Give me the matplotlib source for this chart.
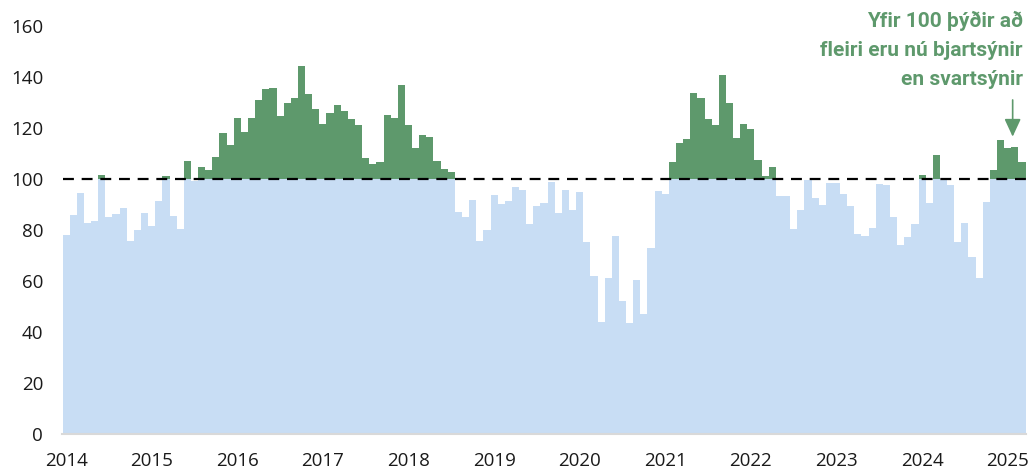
import numpy as np
from matplotlib import pyplot as plt

# vísitala, mánaðarleg gildi jan 2014 - mar 2025
vals_2014 = [78.0, 85.7, 94.6, 82.6, 83.5, 101.6, 85.1, 86.4, 88.5, 75.8, 80.0, 86.5]
vals_2015 = [81.7, 91.4, 101.2, 85.4, 80.4, 106.9, 99.2, 104.6, 103.4, 108.8, 117.9, 113.3]
vals_2016 = [124.1, 118.3, 123.8, 131.0, 135.4, 135.6, 124.8, 129.7, 131.8, 144.3, 133.2, 127.6]
vals_2017 = [121.4, 125.8, 129.0, 126.5, 123.4, 121.2, 108.4, 106.0, 106.5, 125.1, 123.8, 136.9]
vals_2018 = [121.3, 112.3, 117.1, 116.3, 106.9, 103.9, 102.6, 87.1, 85.2, 91.9, 75.8, 80.0]
vals_2019 = [93.7, 90.2, 91.4, 96.7, 95.8, 82.2, 89.4, 90.7, 99.0, 86.8, 95.5, 88.0]
vals_2020 = [94.8, 75.2, 62.0, 44.0, 61.3, 77.5, 52.0, 43.7, 60.5, 47.1, 72.9, 95.3]
vals_2021 = [94.3, 106.5, 114.2, 115.6, 133.9, 131.6, 123.4, 121.2, 140.8, 129.9, 116.0, 121.4]
vals_2022 = [119.5, 107.5, 101.2, 104.8, 93.3, 93.5, 80.4, 87.8, 99.6, 92.5, 89.9, 98.3]
vals_2023 = [98.6, 94.0, 89.4, 78.3, 77.6, 80.8, 97.9, 97.6, 85.1, 74.0, 77.1, 82.2]
vals_2024 = [101.6, 90.7, 109.4, 99.5, 97.6, 75.3, 82.9, 69.5, 61.2, 90.8, 103.5, 115.4]
vals_2025 = [112.3, 112.5, 106.7]

year_labels = ['2014', '2015', '2016', '2017', '2018', '2019',
               '2020', '2021', '2022', '2023', '2024', '2025']

note = "Yfir 100 þýðir að\nfleiri eru nú bjartsýnir\nen svartsýnir"

values = np.array(vals_2014 + vals_2015 + vals_2016 + vals_2017 + vals_2018 + vals_2019 +
                  vals_2020 + vals_2021 + vals_2022 + vals_2023 + vals_2024 + vals_2025)
x = np.arange(len(values))

green = '#5e996c'
blue = '#c8ddf4'

plt.rcParams['font.family'] = ['Open Sans', 'DejaVu Sans']

fig = plt.figure(figsize=(10.32, 4.74), dpi=100)
ax = fig.add_axes([62.5/1032, 40/474, 963/1032, 408/474])

# blár hluti upp að 100, grænn hluti yfir 100
ax.bar(x, np.minimum(values, 100), width=1.0, color=blue, linewidth=0)
ax.bar(x, np.maximum(values - 100, 0), bottom=100, width=1.0, color=green, linewidth=0)

ax.axhline(100, color='black', lw=1.6, dashes=(4.9, 3.5), zorder=3)

ax.set_xlim(-0.5, len(values) - 0.5)
ax.set_ylim(0, 160)
ax.set_yticks(np.arange(0, 161, 20))
ax.set_xticks(np.arange(0, len(values), 12))
ax.set_xticklabels(year_labels)
ax.tick_params(axis='both', length=0, labelsize=13.5, colors='#1a1a1a')
ax.tick_params(axis='x', pad=13)
ax.tick_params(axis='y', pad=14)

for s in ['top', 'right', 'left']:
    ax.spines[s].set_visible(False)
ax.spines['bottom'].set_color('#d9d9d9')
ax.spines['bottom'].set_linewidth(1.5)

# ör og skýring
arrow_x = len(values) - 2.3
ax.annotate('', xy=(arrow_x, 116.6), xytext=(arrow_x, 131),
            arrowprops=dict(arrowstyle='-|>,head_length=1.08,head_width=0.5',
                            color=green, lw=1.2, shrinkA=0, shrinkB=0,
                            mutation_scale=10))
fig.text(1023/1032, 1 - 11/474, note, ha='right', va='top', color=green,
         fontsize=15, fontweight='bold', linespacing=1.65, family=['Roboto', 'DejaVu Sans'])

fig.savefig('out.png', dpi=100)
